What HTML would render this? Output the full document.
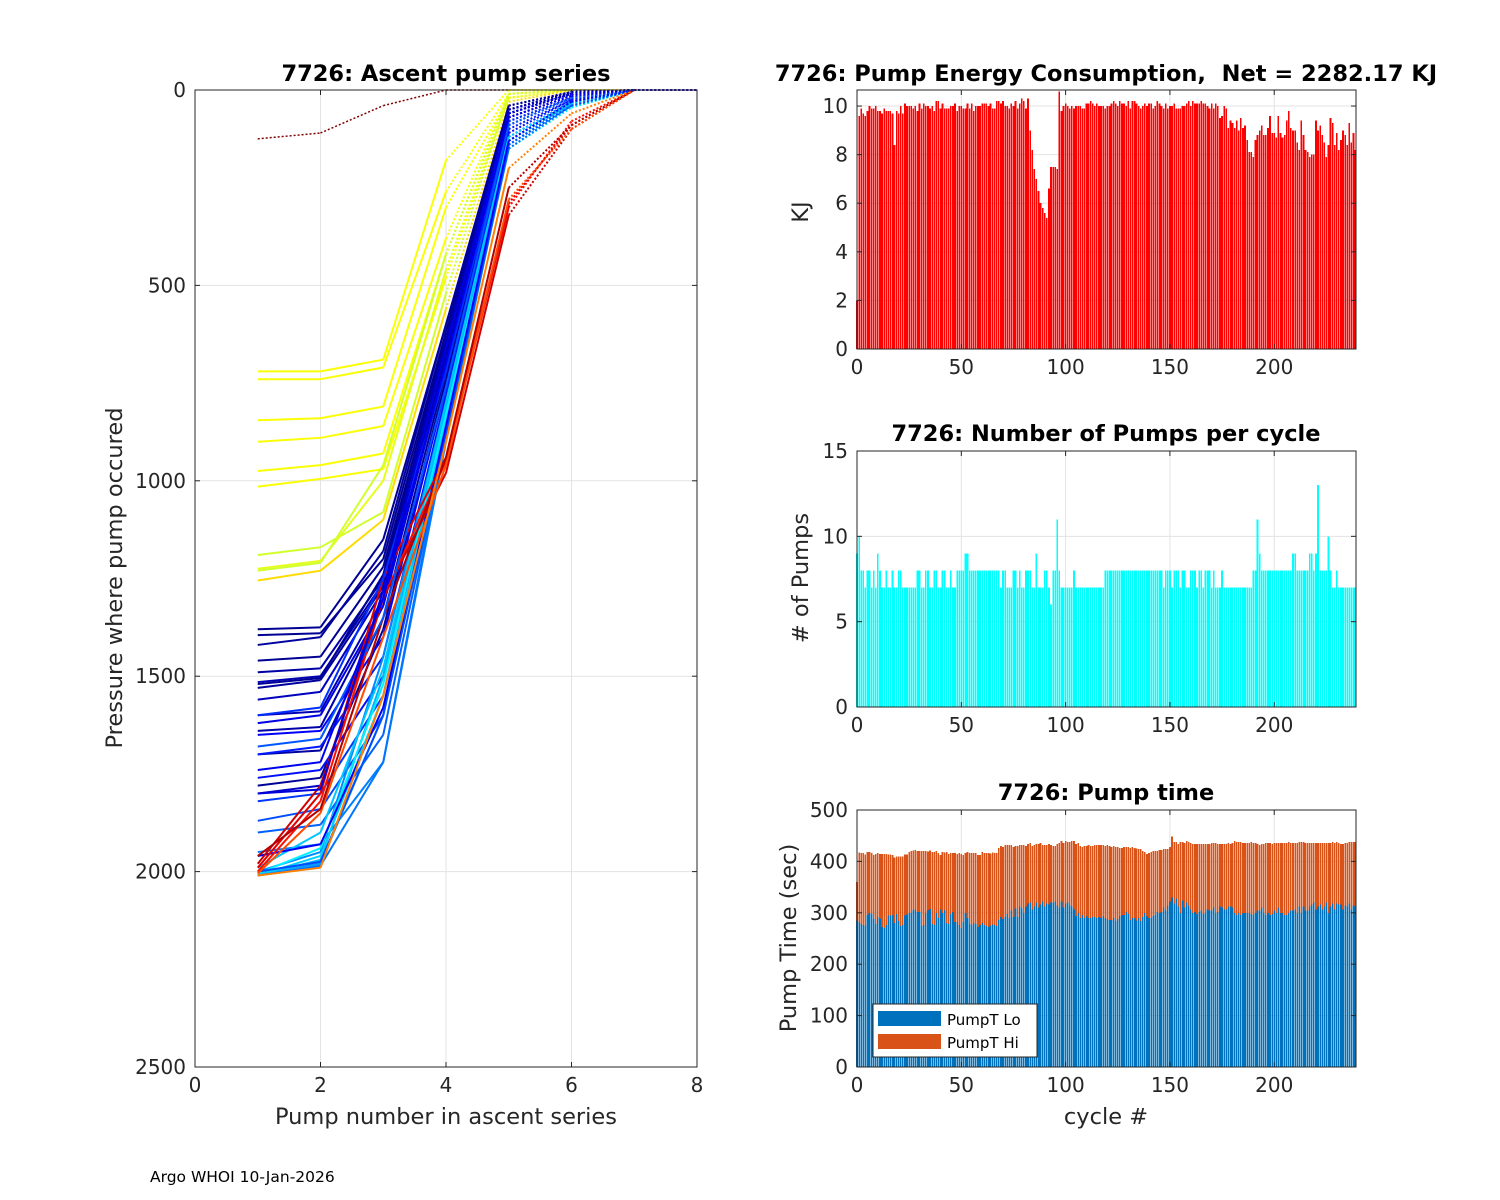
<!DOCTYPE html>
<html><head><meta charset="utf-8">
<style>
body{margin:0;background:#fff;}
svg{display:block;font-family:"DejaVu Sans","Liberation Sans",sans-serif;}
.tk{font-size:20px;fill:#262626;}
.ttl{font-size:22.5px;font-weight:bold;fill:#000;white-space:pre;}
.lbl{font-size:22.5px;fill:#262626;}
</style></head>
<body>
<svg id="fig" width="1500" height="1200" viewBox="0 0 1500 1200">
<g id="left"></g>
<g id="energy"></g>
<g id="pumps"></g>
<g id="ptime"></g>
<text x="150" y="1182" font-size="15.5" fill="#000">Argo WHOI 10-Jan-2026</text>
</svg>
<script>
// ---------- DATA ----------
const ascentColors = [1.0,0.62,0.62,0.62,0.62,0.62,0.62,0.58,0.6,0.58,0.66,0.02,0.02,0.03,0.02,0.04,0.05,0.02,0.03,0.06,0.05,0.04,0.03,0.02,0.07,0.1,0.12,0.15,0.14,0.18,0.2,0.22,0.25,0.28,0.3,0.26,0.33,0.36,0.32,0.24,0.2,0.12,0.86,0.9,0.92,0.8,0.95,0.75,0.17,0.21,0.11,0.09];
const ascentP = [
[125,110,40,0,0,0,0],
[720,720,690,180,0,0,0],
[740,740,710,260,10,0,0],
[845,840,810,300,20,0,0],
[900,890,860,380,10,0,0],
[975,960,930,420,20,0,0],
[1015,995,970,480,20,0,0],
[1190,1170,1080,520,10,0,0],
[1225,1205,1000,460,20,0,0],
[1230,1210,960,420,10,0,0],
[1255,1230,1100,560,30,0,0],
[1380,1375,1150,600,50,10,0],
[1395,1390,1200,620,60,10,0],
[1420,1400,1180,600,40,5,0],
[1460,1450,1220,640,50,10,0],
[1490,1480,1250,650,60,10,0],
[1515,1500,1260,640,50,5,0],
[1520,1505,1240,620,40,5,0],
[1530,1510,1270,660,60,10,0],
[1560,1540,1280,670,50,10,0],
[1600,1590,1300,680,60,10,0],
[1640,1630,1320,700,70,15,0],
[1700,1690,1350,720,60,10,0],
[1780,1760,1380,740,70,15,0],
[1800,1780,1300,700,60,10,0],
[1620,1600,1320,700,80,20,0],
[1650,1640,1400,760,90,20,0],
[1700,1680,1450,780,100,25,0],
[1760,1740,1500,820,110,25,0],
[1820,1800,1550,840,120,30,0],
[1870,1840,1600,860,130,30,0],
[1900,1880,1650,880,130,35,0],
[1950,1930,1720,900,140,35,0],
[2005,1980,1600,860,150,40,0],
[2010,1970,1500,820,130,35,0],
[2000,1950,1450,800,120,30,0],
[2010,1960,1550,850,140,40,0],
[2005,1940,1520,830,150,45,0],
[1990,1900,1480,800,120,35,0],
[2010,1985,1720,880,150,40,0],
[2000,1975,1600,880,140,40,0],
[1960,1930,1580,860,130,30,0],
[2000,1820,1300,950,300,80,0],
[1990,1800,1250,940,290,90,0],
[1980,1780,1300,980,320,100,0],
[2005,1850,1400,960,280,100,0],
[1960,1840,1350,940,250,90,0],
[2010,1990,1550,900,200,60,0],
[1600,1580,1250,720,80,20,0],
[1680,1660,1350,760,90,20,0],
[1740,1720,1300,700,70,15,0],
[1800,1790,1280,660,60,10,0]
];
const energy = [2,9.6,9.9,9.7,9.6,9.8,10,9.9,9.9,10,9.8,9.8,9.7,9.9,9.8,9.8,9.8,9.7,8.4,9.8,9.7,10,9.7,10.1,10,10,10,9.9,10,9.8,10.1,9.9,10.1,10,10,9.9,10,9.8,10.2,10.2,9.9,10.1,9.9,9.9,9.9,10,10,10.1,9.8,10,10,9.9,9.9,10.1,9.9,10.1,9.8,10,10,10,10.1,10.1,10.1,10,10.1,9.9,9.9,10.2,10.2,10.1,10.2,10,10,9.9,10.1,10,10.2,9.9,10.1,10.3,10.2,9.9,10.3,9.0,8.2,7.4,7.0,6.5,6.0,5.8,5.6,5.4,6.6,7.5,7.5,7.5,7.4,10.6,9.8,10,10.1,10,9.9,10,9.9,10,10,10,9.9,9.9,10.1,10.1,10.2,10.1,10,10.1,10,10,10,9.9,10,10,10.1,10.2,10.1,10,10.2,10.1,10.1,10,10.2,9.9,10.2,10.2,10.1,10,9.9,10,10.1,10,10.1,10.1,9.9,10,10.2,10.1,10,9.9,10.1,9.9,10,10,10.1,9.9,9.9,9.9,10,10,10.1,10.2,10,10.2,10.1,10.1,10.1,10.2,10.1,10.1,10,9.9,10.1,9.9,10.1,10,9.5,9.6,10,9.9,9.1,9.4,9.3,9.1,9.4,9.0,9.5,9.1,9.2,8.6,8.1,8.1,7.9,8.6,8.8,9.0,9.2,8.8,8.8,9.1,9.6,8.9,8.9,8.7,9.6,8.9,8.7,8.8,9.4,9.8,9.1,9.0,9.0,8.5,8.2,9.4,8.8,8.2,8.1,7.9,8.0,8.0,9.4,9.0,9.2,8.8,8.5,7.9,8.4,9.5,9.3,8.4,8.9,8.2,8.6,9.0,8.8,8.4,9.3,8.5,8.9,8.2,8.6];
const pumps = [9,10,8,8,7,8,8,7,8,7,9,8,7,7,8,7,7,8,7,7,8,8,7,7,7,7,7,7,7,8,8,7,7,8,8,7,7,8,8,7,7,8,8,7,7,8,7,7,8,8,8,8,9,9,8,8,8,8,8,8,8,8,8,8,8,8,8,8,8,7,8,8,7,7,7,8,8,7,8,7,7,8,8,8,7,7,9,7,7,7,8,8,7,6,8,8,11,8,7,7,7,7,7,7,8,7,7,7,7,7,7,7,7,7,7,7,7,7,7,8,8,8,8,8,8,8,8,8,8,8,8,8,8,8,8,8,8,8,8,8,8,8,8,8,8,8,8,7,8,8,8,7,8,8,8,7,8,8,7,7,8,8,8,7,8,8,7,8,8,8,7,8,7,7,7,8,7,7,7,7,7,7,7,7,7,7,7,7,7,7,8,8,11,9,8,8,8,8,8,8,8,8,8,8,8,8,8,8,8,9,9,8,8,8,8,8,8,9,9,8,9,13,8,8,8,8,10,8,7,7,8,7,7,7,7,7,7,7,7,7,7];
const pumpLo = [285,282,278,276,275,296,300,298,288,278,292,289,272,270,276,295,295,296,280,298,284,274,276,295,297,300,300,305,306,302,302,274,276,300,305,307,278,276,300,290,306,300,305,280,278,298,302,282,282,276,270,282,300,290,278,276,280,278,272,276,280,276,274,272,275,277,276,274,286,292,288,292,298,290,304,292,308,292,312,308,300,312,318,320,306,312,320,310,316,322,312,318,316,320,320,322,314,310,322,310,318,320,314,312,306,294,300,290,296,290,294,290,290,292,292,290,292,290,294,290,288,286,286,290,284,288,294,296,296,302,298,286,290,290,285,290,284,292,300,294,290,290,294,296,302,300,302,310,304,314,322,330,318,328,312,300,324,310,320,314,306,300,302,298,302,304,298,300,306,304,304,310,300,302,312,310,306,306,312,312,310,300,296,300,296,300,300,300,300,298,296,300,304,304,310,300,296,300,296,298,304,300,310,300,300,296,296,300,304,304,306,300,312,300,312,304,304,312,316,320,306,312,316,306,312,320,300,312,318,306,318,316,316,306,314,312,318,306,314,312,310];
const pumpHi = [75,135,138,140,138,122,118,118,124,136,124,125,142,144,138,118,118,116,128,112,126,136,134,118,116,118,120,116,116,118,118,146,144,120,114,114,140,142,120,126,106,118,112,138,136,118,114,134,132,140,144,130,116,128,138,140,136,138,140,136,138,140,142,144,140,140,140,142,140,138,140,140,134,142,128,136,122,138,120,124,132,118,116,116,124,120,114,124,120,110,120,114,118,112,110,108,120,126,118,126,122,118,124,128,134,140,136,140,132,140,136,142,140,138,140,142,140,142,138,140,144,144,142,140,144,140,132,130,132,126,130,140,138,136,140,134,140,128,118,120,126,128,126,124,118,122,120,114,120,110,106,118,120,110,122,138,114,126,120,124,130,134,132,136,132,130,136,134,128,130,132,126,136,132,122,124,128,128,124,122,126,140,142,138,142,136,136,136,136,140,140,136,130,128,124,134,140,136,140,136,132,136,126,136,136,140,140,138,132,132,130,136,126,138,126,132,132,124,120,116,130,124,120,130,124,116,136,124,120,130,120,120,118,128,122,124,120,132,124,126,128];

// ---------- HELPERS ----------
const NS = "http://www.w3.org/2000/svg";
function mk(parent, tag, attrs, txt){
  const e = document.createElementNS(NS, tag);
  for (const k in attrs) e.setAttribute(k, attrs[k]);
  if (txt !== undefined) e.textContent = txt;
  parent.appendChild(e);
  return e;
}
function jet(t){
  const c = v => Math.round(255*Math.max(0,Math.min(1,v)));
  return `rgb(${c(1.5-Math.abs(4*t-3))},${c(1.5-Math.abs(4*t-2))},${c(1.5-Math.abs(4*t-1))})`;
}
function axes(g, box, xs, ys, xt, yt){
  xt.forEach(v=>{ mk(g,'line',{x1:xs(v),x2:xs(v),y1:box.t,y2:box.b,stroke:'#e3e3e3','stroke-width':1}); });
  yt.forEach(v=>{ mk(g,'line',{x1:box.l,x2:box.r,y1:ys(v),y2:ys(v),stroke:'#e3e3e3','stroke-width':1}); });
}
function frame(g, box, xs, ys, xt, yt, name){
  mk(g,'rect',{x:box.l,y:box.t,width:box.r-box.l,height:box.b-box.t,fill:'none',stroke:'#262626','stroke-width':1});
  xt.forEach(v=>{
    mk(g,'line',{x1:xs(v),x2:xs(v),y1:box.b,y2:box.b-5,stroke:'#262626'});
    mk(g,'line',{x1:xs(v),x2:xs(v),y1:box.t,y2:box.t+5,stroke:'#262626'});
    const t = mk(g,'text',{x:xs(v),y:box.b+25,'text-anchor':'middle',class:'tk'},String(v));
    
    
  });
  yt.forEach(v=>{
    mk(g,'line',{x1:box.l,x2:box.l+5,y1:ys(v),y2:ys(v),stroke:'#262626'});
    mk(g,'line',{x1:box.r,x2:box.r-5,y1:ys(v),y2:ys(v),stroke:'#262626'});
    const t = mk(g,'text',{x:box.l-9,y:ys(v)+7,'text-anchor':'end',class:'tk'},String(v));
    
    
  });
}
function label(g, x, y, cls, txt, name, rot){
  const a = {x:x,y:y,'text-anchor':'middle',class:cls};
  if (rot) a.transform = `rotate(-90 ${x} ${y})`;
  const t = mk(g,'text',a,txt);
  
  
  return t;
}

// ---------- LEFT CHART ----------
(function(){
  const g = document.getElementById('left');
  const box = {l:195,r:697,t:90,b:1067};
  const xs = v => box.l + (v/8)*(box.r-box.l);
  const ys = v => box.t + (v/2500)*(box.b-box.t);
  const xt=[0,2,4,6,8], yt=[0,500,1000,1500,2000,2500];
  mk(g,'rect',{x:box.l,y:box.t,width:box.r-box.l,height:box.b-box.t,fill:'#fff'});
  axes(g,box,xs,ys,xt,yt);
  ascentP.forEach((p,i)=>{
    const col = jet(ascentColors[i]);
    const yellowish = ascentColors[i]>0.5 && ascentColors[i]<0.7;
    const darkred = ascentColors[i]>=0.99;
    for (let k=0;k<p.length-1;k++){
      const dotted = (yellowish && k>=3) || darkred || (k>=4);
      const s = mk(g,'line',{x1:xs(k+1),y1:ys(p[k]),x2:xs(k+2),y2:ys(p[k+1]),stroke:col,'stroke-width':darkred?1.5:2,'stroke-dasharray':dotted?'2,2':'none'});
      
      
    }
    const tail = mk(g,'line',{x1:xs(7),y1:ys(p[6]),x2:xs(8),y2:ys(0),stroke:col,'stroke-width':1.5,'stroke-dasharray':'2,2'});
    
    
  });
  frame(g,box,xs,ys,xt,yt,'ascent');
  label(g,446,81,'ttl','7726: Ascent pump series','ascent-title');
  label(g,446,1124,'lbl','Pump number in ascent series','ascent-x-axis-title');
  label(g,122,578,'lbl','Pressure where pump occured','ascent-y-axis-title',true);
})();

// ---------- RIGHT CHARTS ----------
const RX = {l:857,r:1356};
const xsR = v => RX.l + (v/239.2)*(RX.r-RX.l);
const bw = 0.8*(RX.r-RX.l)/239.2;
const xtR = [0,50,100,150,200];

(function(){
  const g = document.getElementById('energy');
  const box = {l:RX.l,r:RX.r,t:90,b:349};
  const ys = v => box.b - (v/10.66)*(box.b-box.t);
  const yt=[0,2,4,6,8,10];
  axes(g,box,xsR,ys,xtR,yt);
  energy.forEach((v,i)=>{
    if (xsR(i)-bw/2 >= box.r) return;
    const r = mk(g,'rect',{x:xsR(i)-bw/2,y:ys(Math.min(v,10.66)),width:bw,height:box.b-ys(Math.min(v,10.66)),fill:'#ff0000','shape-rendering':'crispEdges'});
    
    
  });
  frame(g,box,xsR,ys,xtR,yt,'energy');
  label(g,1106,81,'ttl','7726: Pump Energy Consumption,  Net = 2282.17 KJ','energy-title');
  label(g,808,212,'lbl','KJ','energy-y-axis-title',true);
})();

(function(){
  const g = document.getElementById('pumps');
  const box = {l:RX.l,r:RX.r,t:451,b:707};
  const ys = v => box.b - (v/15)*(box.b-box.t);
  const yt=[0,5,10,15];
  axes(g,box,xsR,ys,xtR,yt);
  pumps.forEach((v,i)=>{
    if (xsR(i)-bw/2 >= box.r) return;
    const r = mk(g,'rect',{x:xsR(i)-bw/2,y:ys(v),width:bw,height:box.b-ys(v),fill:'#00ffff','shape-rendering':'crispEdges'});
    
    
  });
  frame(g,box,xsR,ys,xtR,yt,'pumps');
  label(g,1106,441,'ttl','7726: Number of Pumps per cycle','pumps-title');
  label(g,808,578,'lbl','# of Pumps','pumps-y-axis-title',true);
})();

(function(){
  const g = document.getElementById('ptime');
  const box = {l:RX.l,r:RX.r,t:810,b:1067};
  const ys = v => box.b - (v/500)*(box.b-box.t);
  const yt=[0,100,200,300,400,500];
  axes(g,box,xsR,ys,xtR,yt);
  pumpLo.forEach((v,i)=>{
    if (xsR(i)-bw/2 >= box.r) return;
    const h = pumpHi[i]||0;
    const r1 = mk(g,'rect',{x:xsR(i)-bw/2,y:ys(v),width:bw,height:box.b-ys(v),fill:'#0072bd','shape-rendering':'crispEdges'});
    
    
    const r2 = mk(g,'rect',{x:xsR(i)-bw/2,y:ys(v+h),width:bw,height:ys(v)-ys(v+h),fill:'#d95319','shape-rendering':'crispEdges'});
    
    
  });
  frame(g,box,xsR,ys,xtR,yt,'ptime');
  label(g,1106,800,'ttl','7726: Pump time','pump-time-title');
  label(g,1106,1124,'lbl','cycle #','pump-time-x-axis-title');
  label(g,796,938,'lbl','Pump Time (sec)','pump-time-y-axis-title',true);
  const lg = mk(g,'g',{});
  
  
  mk(lg,'rect',{x:873,y:1004,width:164,height:53,fill:'#fff',stroke:'#262626'});
  mk(lg,'rect',{x:878,y:1011,width:63,height:15,fill:'#0072bd'});
  mk(lg,'rect',{x:878,y:1034,width:63,height:15,fill:'#d95319'});
  const a = mk(lg,'text',{x:947,y:1025,'font-size':15,fill:'#000'},'PumpT Lo');
  
  
  const b = mk(lg,'text',{x:947,y:1048,'font-size':15,fill:'#000'},'PumpT Hi');
  
  
})();
</script>
</body></html>
